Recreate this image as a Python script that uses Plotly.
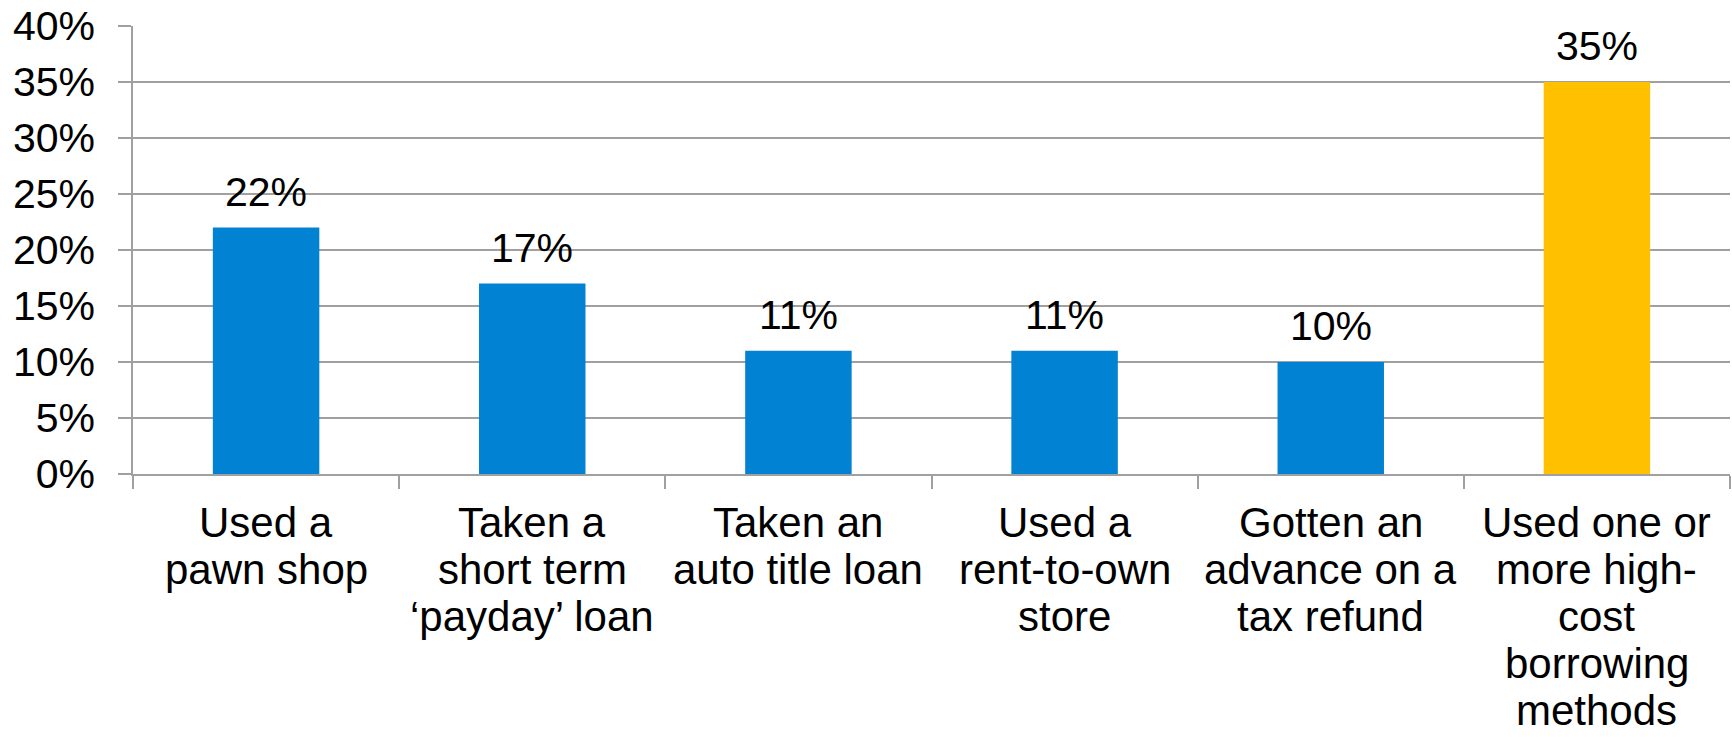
import plotly.graph_objects as go

# Share of respondents who used each high-cost borrowing method
categories = [
    ["Used a", "pawn shop"],
    ["Taken a", "short term", "\u2018payday\u2019 loan"],
    ["Taken an", "auto title loan"],
    ["Used a", "rent-to-own", "store"],
    ["Gotten an", "advance on a", "tax refund"],
    ["Used one or", "more high-", "cost", "borrowing", "methods"],
]
values = [22, 17, 11, 11, 10, 35]
bar_colors = ["#0282d3", "#0282d3", "#0282d3", "#0282d3", "#0282d3", "#ffc000"]
y_ticks = [0, 5, 10, 15, 20, 25, 30, 35, 40]
y_tick_labels = [f"{v}%" for v in y_ticks]

FONT = "Arial, Liberation Sans, sans-serif"
FS_NUM = 41
FS_CAT = 42
LINE_GAP = 47
GRID = "#a0a0a0"

keys = [" ".join(c) for c in categories]

fig = go.Figure(
    go.Bar(
        x=keys,
        y=values,
        marker=dict(color=bar_colors, line=dict(width=0)),
        width=0.4,
        hoverinfo="skip",
    )
)

# value labels above each bar
for k, v in zip(keys, values):
    fig.add_annotation(
        x=k, y=v, xref="x", yref="y",
        text=f"{v}%", showarrow=False,
        yanchor="bottom", yshift=11,
        font=dict(family=FONT, size=FS_NUM, color="#000000"),
    )

# wrapped category labels under the axis, one line at a time
for k, lines in zip(keys, categories):
    for i, line in enumerate(lines):
        fig.add_annotation(
            x=k, y=0, xref="x", yref="paper",
            text=line, showarrow=False,
            yanchor="top", yshift=-24 - i * LINE_GAP,
            borderpad=0,
            font=dict(family=FONT, size=FS_CAT, color="#000000"),
        )

fig.update_layout(
    width=1732,
    height=737,
    margin=dict(l=133, r=2, t=26, b=263),
    paper_bgcolor="white",
    plot_bgcolor="white",
    showlegend=False,
    bargap=0.6,
    font=dict(family=FONT, size=FS_NUM, color="#000000"),
)

fig.update_xaxes(
    type="category",
    showticklabels=False,
    tickson="boundaries",
    ticks="outside",
    ticklen=13,
    tickwidth=1.5,
    tickcolor=GRID,
    showline=True,
    linecolor=GRID,
    linewidth=1.5,
    showgrid=False,
    zeroline=False,
)

fig.update_yaxes(
    range=[0, 40],
    tickvals=y_ticks,
    ticktext=y_tick_labels,
    ticks="outside",
    ticklen=13,
    tickwidth=1.5,
    tickcolor=GRID,
    ticklabelstandoff=15,
    showline=True,
    linecolor=GRID,
    linewidth=1.5,
    showgrid=True,
    gridcolor=GRID,
    gridwidth=1.5,
    zeroline=False,
    tickfont=dict(family=FONT, size=FS_NUM, color="#000000"),
)

fig.write_html("out.html")
